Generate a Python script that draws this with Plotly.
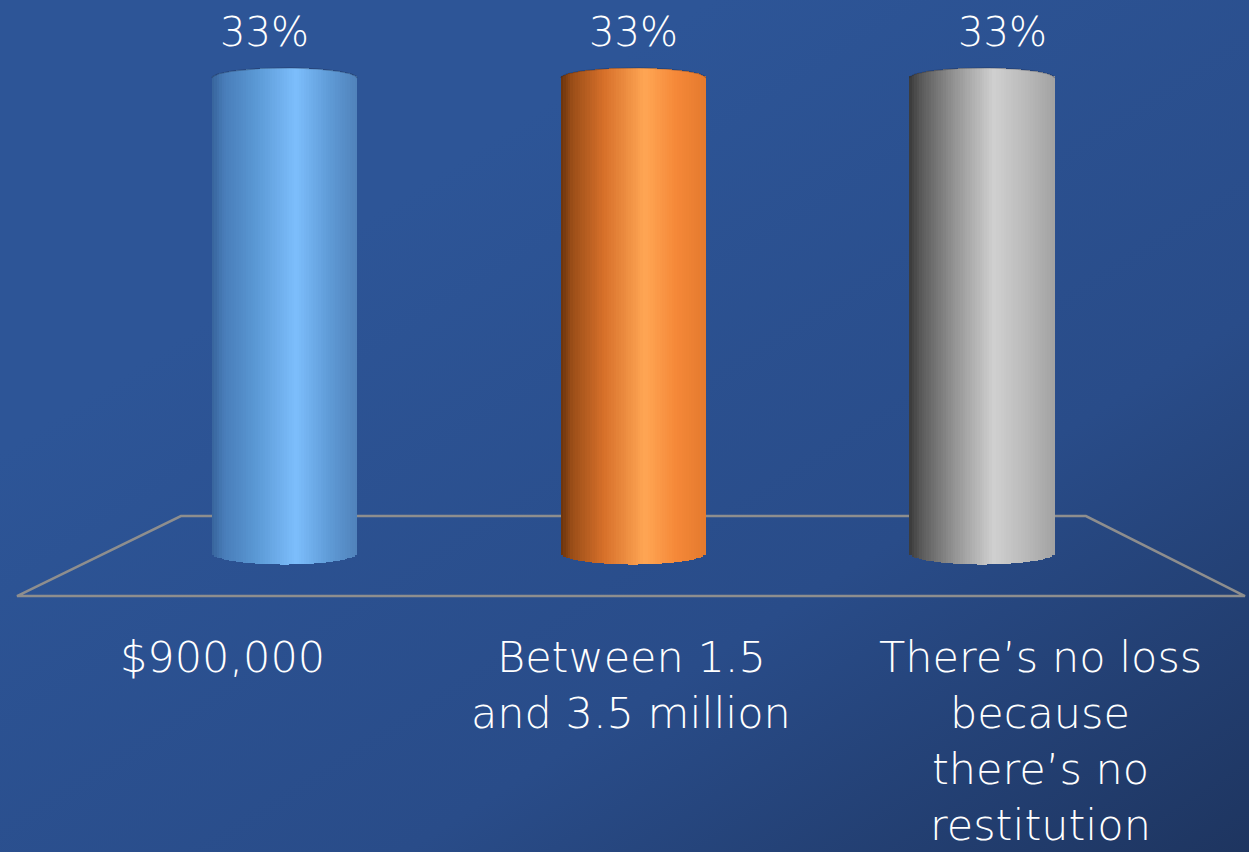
import base64
import numpy as np
import plotly.graph_objects as go

# ---- data ----
categories = [
    "$900,000",
    "Between 1.5<br>and 3.5 million",
    "There\u2019s no loss<br>because<br>there\u2019s no<br>restitution",
]
values = [33, 33, 33]
value_labels = ["33%", "33%", "33%"]

# ---- cylinder shading (left dark edge -> highlight -> right) ----
shade_t = [0.0, 0.08, 0.3, 0.58, 0.8, 1.0]
shades = [
    [(55, 100, 155), (72, 124, 184), (90, 152, 212), (125, 190, 252), (96, 156, 216), (80, 130, 186)],
    [(105, 50, 12), (155, 78, 24), (215, 112, 42), (255, 166, 84), (245, 136, 56), (228, 122, 46)],
    [(58, 58, 58), (90, 90, 90), (145, 145, 145), (208, 208, 208), (186, 186, 186), (162, 162, 162)],
]

RADIUS = 0.208        # half width of a cylinder, in category units
TOP_H = 0.70          # half height of the top ellipse, value units
BOT_H = 0.80          # half height of the bottom ellipse, value units
N_STRIPS = 60
FONT = "DejaVu Sans"
LINE_STEP = 56        # px between lines of a category label


def shade(series, t):
    cols = np.array(shades[series], dtype=float)
    rgb = [np.interp(t, shade_t, cols[:, c]) for c in range(3)]
    return "rgb(%d,%d,%d)" % tuple(int(round(v)) for v in rgb)


fig = go.Figure()

# cylinders built from thin shaded vertical strips
for i, v in enumerate(values):
    edges = np.linspace(i - RADIUS, i + RADIUS, N_STRIPS + 1)
    xc = (edges[:-1] + edges[1:]) / 2
    u = (xc - i) / RADIUS
    s = np.sqrt(np.clip(1 - u ** 2, 0, 1))
    base = -BOT_H * s
    top = v + TOP_H * s
    t = (u + 1) / 2
    fig.add_trace(go.Bar(
        x=xc, y=top - base, base=base,
        width=np.full(N_STRIPS, (2 * RADIUS / N_STRIPS) * 1.04),
        marker=dict(color=[shade(i, tt) for tt in t], line=dict(width=0)),
        hoverinfo="skip", showlegend=False,
    ))
    # subtle rim along the top edge of the cap
    ang = np.linspace(0, np.pi, 80)
    fig.add_trace(go.Scatter(
        x=i + RADIUS * np.cos(ang), y=v + TOP_H * np.sin(ang),
        mode="lines", line=dict(color="rgba(30,40,70,0.35)", width=1.2),
        hoverinfo="skip", showlegend=False,
    ))

# floor of the 3D plot area, kept beneath the cylinders
floor_path = "M -0.767,-2.99 L -0.297,2.57 L 2.298,2.57 L 2.754,-2.99 Z"
fig.add_shape(
    type="path", path=floor_path, xref="x", yref="y", layer="below",
    line=dict(color="#8e8e8e", width=2.5),
)

# value labels above each cylinder
for i, (v, lab) in enumerate(zip(values, value_labels)):
    fig.add_annotation(
        x=i, y=v, text=lab, showarrow=False,
        xshift=(i - 1) * 20, yshift=46, yanchor="middle",
        font=dict(family=FONT, size=40, color="white", weight=300),
    )

# category labels along the front edge of the floor, one line at a time
for i, cat in enumerate(categories):
    for k, line in enumerate(cat.split("<br>")):
        fig.add_annotation(
            x=i, y=0, text=line, showarrow=False,
            xshift=(i - 1) * 60 - 2, yshift=-104 - k * LINE_STEP,
            yanchor="middle", align="center",
            font=dict(family=FONT, size=43, color="white", weight=300),
        )

svg = (
    '<svg xmlns="http://www.w3.org/2000/svg" width="1249" height="852" '
    'preserveAspectRatio="none"><defs>'
    '<linearGradient id="g" x1="0.3" y1="0.25" x2="1" y2="1">'
    '<stop offset="0" stop-color="#2d5597"/>'
    '<stop offset="0.55" stop-color="#294c89"/>'
    '<stop offset="1" stop-color="#1e3560"/>'
    '</linearGradient></defs>'
    '<rect width="1249" height="852" fill="url(#g)"/></svg>'
)
bg = "data:image/svg+xml;base64," + base64.b64encode(svg.encode()).decode()

px_per_cat = 348.75
px_per_val = 475 / 33
x_range = [-284.5 / px_per_cat, (1249 - 284.5) / px_per_cat]
y_range = [-(852 - 553) / px_per_val, 553 / px_per_val]

fig.update_layout(
    width=1249, height=852,
    margin=dict(l=0, r=0, t=0, b=0),
    paper_bgcolor="#2a4f8c",
    plot_bgcolor="rgba(0,0,0,0)",
    barmode="overlay", bargap=0,
    images=[dict(source=bg, xref="paper", yref="paper", x=0, y=1,
                 sizex=1, sizey=1, sizing="stretch", layer="below")],
    xaxis=dict(range=x_range, visible=False, fixedrange=True),
    yaxis=dict(range=y_range, visible=False, fixedrange=True),
    hovermode=False,
)

fig.write_html("out.html")
